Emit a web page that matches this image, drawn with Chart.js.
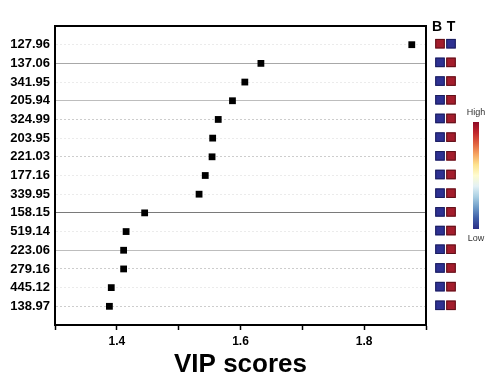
<!DOCTYPE html>
<html>
<head>
<meta charset="utf-8">
<script src="https://cdn.jsdelivr.net/npm/chart.js@4/dist/chart.umd.min.js"></script>
<style>
  html, body { margin: 0; padding: 0; background: #fff; }
  #wrap { width: 500px; height: 392px; position: relative; }
</style>
</head>
<body>
<div id="wrap"><canvas id="c" width="500" height="392"></canvas></div>
<script>
// ---- data ----
const features = ['127.96','137.06','341.95','205.94','324.99','203.95','221.03','177.16','339.95','158.15','519.14','223.06','279.16','445.12','138.97'];
const vipScores = [1.877, 1.633, 1.607, 1.587, 1.564, 1.555, 1.554, 1.543, 1.533, 1.445, 1.415, 1.411, 1.411, 1.391, 1.388];
const groupB = ['High','Low','Low','Low','Low','Low','Low','Low','Low','Low','Low','Low','Low','Low','Low'];
const groupT = ['Low','High','High','High','High','High','High','High','High','High','High','High','High','High','High'];
const groupNames = ['B','T'];
const xTickLabels = ['1.4','1.6','1.8'];
const legendLabels = ['High','Low'];

// ---- styles (not data) ----
const gridStyle = ['faint','solid','faint','solid2','dot','faint','dot','faint','faint','dark','faint','solid2','dot','faint','dot'];
const gridColors = { faint: '#ebebeb', dot: '#cdcdcd', solid: '#a8a8a8', solid2: '#bdbdbd', dark: '#7a7a7a' };
const levelFill = { High: '#a31d2c', Low: '#2e3192' };
const levelStroke = { High: '#5e1119', Low: '#1b1d5c' };

const font = "'Liberation Sans', Arial, sans-serif";

const sidePlugin = {
  id: 'side',
  afterDraw(chart) {
    const { ctx, chartArea } = chart;
    const y = chart.scales.y;
    ctx.save();
    // frame top & right
    ctx.strokeStyle = '#000';
    ctx.lineWidth = 2;
    ctx.beginPath();
    ctx.moveTo(chartArea.left, chartArea.top);
    ctx.lineTo(chartArea.right, chartArea.top);
    ctx.lineTo(chartArea.right, chartArea.bottom);
    ctx.stroke();
    // headers
    const colX = [440, 451];
    ctx.fillStyle = '#000';
    ctx.font = 'bold 14px ' + font;
    ctx.textAlign = 'center';
    ctx.textBaseline = 'middle';
    ctx.fillText(groupNames[0], colX[0] - 3, 27);
    ctx.fillText(groupNames[1], colX[1], 27);
    // squares
    const s = 9.5;
    [groupB, groupT].forEach((arr, ci) => {
      arr.forEach((lv, i) => {
        const cy = y.getPixelForValue(i) - 1;
        const cx = colX[ci];
        ctx.fillStyle = levelFill[lv];
        ctx.fillRect(cx - s / 2, cy - s / 2, s, s);
        ctx.strokeStyle = levelStroke[lv];
        ctx.lineWidth = 1;
        ctx.strokeRect(cx - s / 2 + 0.5, cy - s / 2 + 0.5, s - 1, s - 1);
      });
    });
    // colour bar
    const bx = 473, bw = 6, by0 = 122, by1 = 229;
    const g = ctx.createLinearGradient(0, by0, 0, by1);
    const stops = ['#8e0a26','#c1272d','#e0603f','#f6a461','#fde38f','#fefcd0','#e3f1f5','#a9cfe3','#6d9bc8','#3f5ea8','#2b2f86'];
    stops.forEach((c, i) => g.addColorStop(i / (stops.length - 1), c));
    ctx.fillStyle = g;
    ctx.fillRect(bx, by0, bw, by1 - by0);
    ctx.fillStyle = '#333';
    ctx.font = '9px ' + font;
    ctx.fillText(legendLabels[0], bx + bw / 2, 113);
    ctx.fillText(legendLabels[1], bx + bw / 2, 239);
    ctx.restore();
  }
};

new Chart(document.getElementById('c'), {
  type: 'scatter',
  data: {
    datasets: [{
      data: vipScores.map((v, i) => ({ x: v, y: i })),
      pointStyle: 'rect',
      pointRadius: 4.8,
      pointHoverRadius: 4.8,
      pointBackgroundColor: '#000',
      pointBorderWidth: 0,
      borderWidth: 0
    }]
  },
  options: {
    responsive: false,
    animation: false,
    events: [],
    plugins: { legend: { display: false }, tooltip: { enabled: false } },
    layout: { padding: { top: 26, right: 74, left: 0, bottom: 0 } },
    scales: {
      x: {
        type: 'linear',
        min: 1.3, max: 1.9,
        ticks: {
          stepSize: 0.1,
          autoSkip: false,
          maxRotation: 0,
          padding: 4,
          color: '#000',
          font: { family: font, size: 12, weight: 'bold' },
          callback: (v) => {
            const lbl = (Math.round(v * 10) / 10).toFixed(1);
            return xTickLabels.includes(lbl) ? lbl : '';
          }
        },
        grid: { drawOnChartArea: false, drawTicks: true, tickLength: 5, tickColor: '#000', tickWidth: 1.5 },
        border: { display: true, color: '#000', width: 2 },
        title: {
          display: true,
          text: 'VIP scores',
          color: '#000',
          font: { family: font, size: 26, weight: 'bold' },
          padding: { top: 0, bottom: 12 }
        },
        afterFit: (s) => { s.height = 67; }
      },
      y: {
        type: 'linear',
        min: -1, max: 15,
        reverse: true,
        afterBuildTicks: (s) => { const t = []; for (let i = -1; i <= 15; i++) t.push({ value: i }); s.ticks = t; },
        ticks: {
          autoSkip: false,
          padding: 5,
          color: '#000',
          font: { family: font, size: 13, weight: 'bold' },
          callback: (v) => (v >= 0 && v < features.length) ? features[v] : ''
        },
        grid: {
          drawTicks: false,
          lineWidth: (ctx) => (ctx.tick && gridStyle[ctx.tick.value] && ctx.tick.value >= 0) ? 1 : 0,
          color: (ctx) => {
            const v = ctx.tick ? ctx.tick.value : -1;
            if (v < 0 || v >= gridStyle.length) return 'rgba(0,0,0,0)';
            return gridColors[gridStyle[v]];
          }
        },
        border: {
          display: true, color: '#000', width: 2,
          dash: (ctx) => {
            if (ctx.type !== 'tick' || !ctx.tick) return [];
            const st = gridStyle[ctx.tick.value];
            return (st === 'faint' || st === 'dot') ? [2, 2] : [];
          }
        },
        afterFit: (s) => { s.width = 55; }
      }
    }
  },
  plugins: [sidePlugin]
});
</script>
</body>
</html>
